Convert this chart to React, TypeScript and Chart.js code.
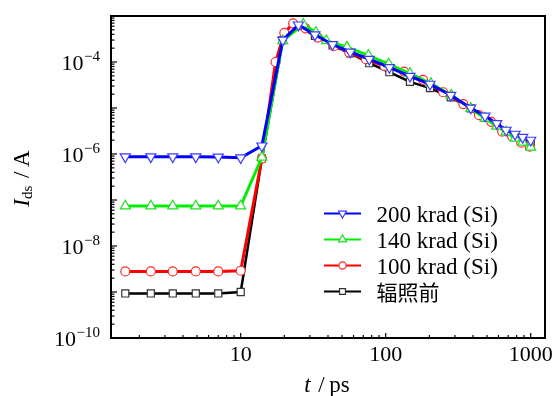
import React, { useEffect, useRef } from "react";
import { Chart, registerables } from "chart.js";
import { drawPoint } from "chart.js/helpers";

Chart.register(...registerables);

// ---- data (t in ps, Ids in A) ----
const xBlue = [1.6, 2.4, 3.4, 4.9, 7, 10, 14, 19.5, 25, 32.5, 43, 57, 77, 106, 147, 202, 281, 386, 484, 583, 676, 780, 881, 1000];
const yBlue = [8.7e-7, 8.7e-7, 8.7e-7, 8.7e-7, 8.6e-7, 8.3e-7, 1.5e-6, 3.0e-4, 6.4e-4, 3.9e-4, 2.4e-4, 1.65e-4, 1.15e-4, 7.6e-5, 4.9e-5, 3.3e-5, 1.9e-5, 1.0e-5, 6.7e-6, 4.6e-6, 3.3e-6, 2.7e-6, 2.3e-6, 2.0e-6];

const xGreen = [1.6, 2.4, 3.4, 4.9, 7, 10, 14, 19.5, 27, 33, 39, 54, 76, 105, 147, 205, 283, 386, 484, 583, 676, 780, 881, 1000];
const yGreen = [7.4e-8, 7.4e-8, 7.4e-8, 7.4e-8, 7.4e-8, 7.4e-8, 8.5e-7, 2.9e-4, 6.6e-4, 4.4e-4, 2.9e-4, 2.1e-4, 1.4e-4, 9.0e-5, 5.6e-5, 3.4e-5, 1.9e-5, 9.8e-6, 6.0e-6, 4.0e-6, 3.0e-6, 2.2e-6, 1.8e-6, 1.4e-6];

const xRed = [1.6, 2.4, 3.4, 4.9, 7, 10, 14, 17.4, 20, 23, 28, 34, 44, 56, 73, 98, 134, 181, 249, 343, 440, 535, 636, 745, 860, 985];
const yRed = [2.8e-9, 2.8e-9, 2.8e-9, 2.8e-9, 2.8e-9, 2.9e-9, 8.0e-7, 1.0e-4, 4.3e-4, 6.9e-4, 5.4e-4, 3.4e-4, 2.2e-4, 1.6e-4, 1.15e-4, 8.2e-5, 6.2e-5, 4.1e-5, 2.2e-5, 1.22e-5, 7.0e-6, 5.0e-6, 3.05e-6, 2.4e-6, 1.76e-6, 1.44e-6];

const xBlack = [1.6, 2.4, 3.4, 4.9, 7, 10, 14, 19.5, 25, 32.5, 43, 57, 77, 106, 147, 202, 281, 386, 484, 583, 676, 780, 881, 1000];
const yBlack = [9.3e-10, 9.3e-10, 9.3e-10, 9.3e-10, 9.3e-10, 1.0e-9, 8.0e-7, 3.0e-4, 6.0e-4, 3.7e-4, 2.3e-4, 1.55e-4, 9.4e-5, 6.0e-5, 3.7e-5, 2.7e-5, 1.7e-5, 9.8e-6, 6.2e-6, 4.3e-6, 3.1e-6, 2.5e-6, 2.1e-6, 1.7e-6];

const seriesLabels = ["200 krad (Si)", "140 krad (Si)", "100 krad (Si)", "辐照前"];
const xTickValues = [10, 100, 1000];
const xTickLabels = ["10", "100", "1000"];
const yTickExponents = [-10, -8, -6, -4];

const X_MIN = 1.275;
const X_MAX = 1255;
const Y_MIN = 1e-10;
const Y_MAX = 1e-3;

const SERIF = '"Liberation Serif", "Times New Roman", serif';
const CJK = '"Noto Sans CJK SC", sans-serif';

type Style = {
  line: string;
  marker: string;
  width: number;
  pointStyle: string;
  rotation: number;
  radius: number;
  legendRadius: number;
};

const styles: Style[] = [
  { line: "#0000ff", marker: "#3c3cff", width: 3, pointStyle: "triangle", rotation: 180, radius: 5.8, legendRadius: 4.6 },
  { line: "#00ee00", marker: "#22dd22", width: 3, pointStyle: "triangle", rotation: 0, radius: 5.8, legendRadius: 4.6 },
  { line: "#ff0000", marker: "#ff2a2a", width: 3, pointStyle: "circle", rotation: 0, radius: 4.5, legendRadius: 3.6 },
  { line: "#000000", marker: "#333333", width: 2.5, pointStyle: "rect", rotation: 0, radius: 5, legendRadius: 4.2 },
];

const toPoints = (xs: number[], ys: number[]) => xs.map((x, i) => ({ x, y: ys[i] }));

function drawSegments(ctx: CanvasRenderingContext2D, segs: { t: string; font: string; dy: number }[], cx: number, baseY: number) {
  let total = 0;
  for (const s of segs) {
    ctx.font = s.font;
    total += ctx.measureText(s.t).width;
  }
  let x = cx - total / 2;
  ctx.textAlign = "left";
  ctx.textBaseline = "alphabetic";
  for (const s of segs) {
    ctx.font = s.font;
    ctx.fillText(s.t, x, baseY + s.dy);
    x += ctx.measureText(s.t).width;
  }
}

const decorPlugin = {
  id: "decor",
  afterDraw(chart: any) {
    const { ctx, chartArea: ca, scales } = chart;
    const xs = scales.x;
    const ys = scales.y;
    ctx.save();
    ctx.fillStyle = "#000";
    ctx.strokeStyle = "#000";

    // inward ticks, bottom axis
    ctx.lineWidth = 1.2;
    for (let e = 0; e <= 3; e++) {
      for (let k = 1; k <= 9; k++) {
        const v = k * Math.pow(10, e);
        if (v < X_MIN || v > X_MAX) continue;
        const px = xs.getPixelForValue(v);
        const len = k === 1 ? 5 : 3;
        ctx.beginPath();
        ctx.moveTo(px, ca.bottom);
        ctx.lineTo(px, ca.bottom - len);
        ctx.stroke();
      }
    }
    // inward ticks, left axis
    for (let e = -10; e <= -3; e++) {
      for (let k = 1; k <= 9; k++) {
        const v = k * Math.pow(10, e);
        if (v < Y_MIN * 0.999 || v > Y_MAX * 1.001) continue;
        const py = ys.getPixelForValue(v);
        const len = k === 1 ? 6 : 3.5;
        ctx.beginPath();
        ctx.moveTo(ca.left, py);
        ctx.lineTo(ca.left + len, py);
        ctx.stroke();
      }
    }

    // frame
    ctx.lineWidth = 2;
    ctx.strokeRect(ca.left, ca.top, ca.right - ca.left, ca.bottom - ca.top);

    // x tick labels
    ctx.font = `22px ${SERIF}`;
    ctx.textAlign = "center";
    ctx.textBaseline = "alphabetic";
    xTickValues.forEach((v, i) => {
      ctx.fillText(xTickLabels[i], xs.getPixelForValue(v), ca.bottom + 23);
    });

    // y tick labels: 10^{e}
    yTickExponents.forEach((e) => {
      const py = ys.getPixelForValue(Math.pow(10, e));
      const right = 100;
      const expText = "\u2212" + String(Math.abs(e));
      ctx.textAlign = "right";
      ctx.font = `15px ${SERIF}`;
      ctx.fillText(expText, right, py - 1);
      const ew = ctx.measureText(expText).width;
      ctx.font = `22px ${SERIF}`;
      ctx.fillText("10", right - ew - 0.5, py + 8);
    });

    // x title
    drawSegments(
      ctx,
      [
        { t: "t", font: `italic 23px ${SERIF}`, dy: 0 },
        { t: "\u2004/\u2009", font: `23px ${SERIF}`, dy: 0 },
        { t: "ps", font: `23px ${SERIF}`, dy: 0 },
      ],
      (ca.left + ca.right) / 2 - 1,
      392
    );

    // y title
    ctx.save();
    ctx.translate(28.5, (ca.top + ca.bottom) / 2 + 1.5);
    ctx.rotate(-Math.PI / 2);
    drawSegments(
      ctx,
      [
        { t: "I", font: `italic 23px ${SERIF}`, dy: 0 },
        { t: "ds", font: `15px ${SERIF}`, dy: 3 },
        { t: "\u2004/\u2009A", font: `23px ${SERIF}`, dy: 0 },
      ],
      0,
      0
    );
    ctx.restore();

    // legend
    const rows = [213.5, 239.5, 265.5, 291.5];
    styles.forEach((st, i) => {
      const y = rows[i];
      ctx.strokeStyle = st.line;
      ctx.lineWidth = 2.2;
      ctx.beginPath();
      ctx.moveTo(324, y);
      ctx.lineTo(361, y);
      ctx.stroke();
      ctx.fillStyle = "#fff";
      ctx.strokeStyle = st.marker;
      ctx.lineWidth = 1.2;
      drawPoint(ctx, { pointStyle: st.pointStyle, radius: st.legendRadius, rotation: st.rotation, borderWidth: 1.2 } as any, 342.5, y);
      ctx.fillStyle = "#000";
      ctx.textAlign = "left";
      ctx.textBaseline = "alphabetic";
      if (i === 3) {
        ctx.font = `21px ${CJK}`;
        ctx.fillText(seriesLabels[i], 376.5, y + 8);
      } else {
        ctx.font = `23px ${SERIF}`;
        ctx.fillText(seriesLabels[i], 376.5, y + 8);
      }
    });

    ctx.restore();
  },
};

export default function App() {
  const canvasRef = useRef<HTMLCanvasElement | null>(null);

  useEffect(() => {
    const canvas = canvasRef.current;
    if (!canvas) return;
    const sets = [
      toPoints(xBlue, yBlue),
      toPoints(xGreen, yGreen),
      toPoints(xRed, yRed),
      toPoints(xBlack, yBlack),
    ];
    const chart = new Chart(canvas, {
      type: "line",
      data: {
        datasets: sets.map((d, i) => ({
          label: seriesLabels[i],
          data: d,
          borderColor: styles[i].line,
          borderWidth: styles[i].width,
          backgroundColor: "#fff",
          pointStyle: styles[i].pointStyle as any,
          pointRotation: styles[i].rotation,
          pointRadius: styles[i].radius,
          pointBackgroundColor: "#ffffff",
          pointBorderColor: styles[i].marker,
          pointBorderWidth: 1.2,
          tension: 0,
          fill: false,
        })),
      },
      options: {
        responsive: false,
        animation: false,
        devicePixelRatio: 1,
        layout: { padding: { left: 0, right: 10, top: 16, bottom: 0 } },
        plugins: { legend: { display: false }, tooltip: { enabled: false } },
        scales: {
          x: {
            type: "logarithmic",
            min: X_MIN,
            max: X_MAX,
            grid: { display: false },
            border: { display: false },
            ticks: { display: false },
            afterFit: (s: any) => {
              s.height = 58;
            },
          },
          y: {
            type: "logarithmic",
            min: Y_MIN,
            max: Y_MAX,
            grid: { display: false },
            border: { display: false },
            ticks: { display: false },
            afterFit: (s: any) => {
              s.width = 111;
            },
          },
        },
      } as any,
      plugins: [decorPlugin],
    });
    return () => chart.destroy();
  }, []);

  return (
    <div style={{ position: "absolute", left: 0, top: 0, width: 555, height: 396, background: "#fff" }}>
      <canvas ref={canvasRef} width={555} height={396} style={{ display: "block" }} />
    </div>
  );
}
